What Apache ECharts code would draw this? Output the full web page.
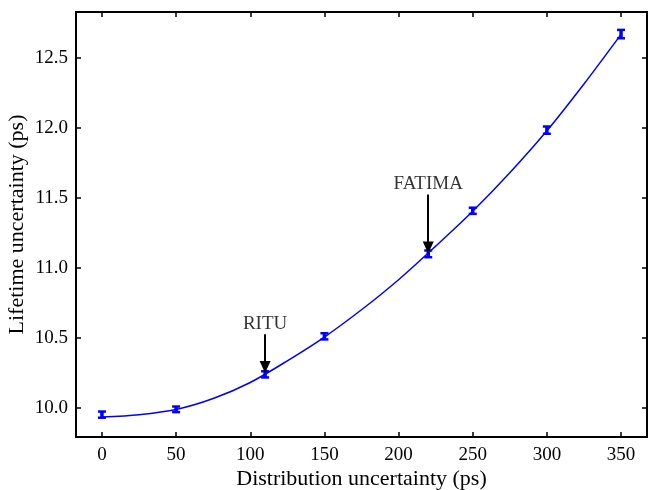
<!DOCTYPE html>
<html>
<head>
<meta charset="utf-8">
<script src="https://cdn.jsdelivr.net/npm/echarts@6/dist/echarts.min.js"></script>
<style>
  html, body { margin: 0; padding: 0; background: #fff; }
  #main { width: 648px; height: 490px; }
</style>
</head>
<body>
<div id="main"></div>
<script>
// measured points with error bars
var distX = [0, 50, 110, 150, 220, 250, 300, 350];
var lifeY = [9.95, 9.988, 10.238, 10.51, 11.10, 11.408, 11.985, 12.672];
var lifeErr = [0.022, 0.02, 0.022, 0.022, 0.024, 0.022, 0.026, 0.03];

// fitted curve
var fitX = [0, 25, 50, 75, 100, 125, 150, 175, 200, 225, 250, 275, 300, 325, 350];
var fitY = [9.933, 9.95, 9.987, 10.065, 10.18, 10.335, 10.505, 10.70, 10.915, 11.155, 11.405, 11.68, 11.98, 12.315, 12.67];

var xTicks = [0, 50, 100, 150, 200, 250, 300, 350];
var yTicks = [10.0, 10.5, 11.0, 11.5, 12.0, 12.5];

// annotations: label, x, text y, arrow start y, arrow tip y
var notes = [
    ['RITU', 110, 10.60, 10.525, 10.29],
    ['FATIMA', 220, 11.60, 11.525, 11.145]
];

var serif = 'Liberation Serif';
var mychart = echarts.init(document.getElementById('main'));

function mkX(show, pos) {
    return {
        type: 'value', position: pos, min: -17.5, max: 367.5,
        name: show ? 'Distribution uncertainty (ps)' : '',
        nameLocation: 'middle', nameGap: 31, nameMoveOverlap: false,
        nameTextStyle: { fontFamily: serif, fontSize: 22, color: '#000' },
        axisLine: { show: true, onZero: false, lineStyle: { color: '#000', width: 2 } },
        axisTick: { show: true, inside: true, length: 5, customValues: xTicks, lineStyle: { color: '#000', width: 1.5 } },
        axisLabel: { show: show, customValues: xTicks, margin: 9, fontFamily: serif, fontSize: 19, color: '#000' },
        splitLine: { show: false }
    };
}
function mkY(show, pos) {
    return {
        type: 'value', position: pos, min: 9.79, max: 12.83,
        name: show ? 'Lifetime uncertainty (ps)' : '',
        nameLocation: 'middle', nameGap: 48, nameRotate: 90, nameMoveOverlap: false,
        nameTextStyle: { fontFamily: serif, fontSize: 22, color: '#000' },
        axisLine: { show: true, onZero: false, lineStyle: { color: '#000', width: 2 } },
        axisTick: { show: true, inside: true, length: 5, customValues: yTicks, lineStyle: { color: '#000', width: 1.5 } },
        axisLabel: {
            show: show, customValues: yTicks, margin: 8, fontFamily: serif, fontSize: 19, color: '#000',
            formatter: function (v) { return v.toFixed(1); }
        },
        splitLine: { show: false }
    };
}

var fitData = fitX.map(function (x, i) { return [x, fitY[i]]; });
var errData = distX.map(function (x, i) { return [x, lifeY[i] - lifeErr[i], lifeY[i] + lifeErr[i]]; });

var arrowLines = notes.map(function (n) {
    return [{ coord: [n[1], n[3]] }, { coord: [n[1], n[4]] }];
});
var noteData = notes.map(function (n) { return { value: [n[1], n[2]], name: n[0] }; });

var option = {
    animation: false,
    grid: { left: 76, top: 12, right: 1, bottom: 53, containLabel: false, outerBoundsMode: 'none' },
    xAxis: [mkX(true, 'bottom'), mkX(false, 'top')],
    yAxis: [mkY(true, 'left'), mkY(false, 'right')],
    series: [
        {
            type: 'line', data: fitData, smooth: 0.3, showSymbol: false,
            lineStyle: { color: '#0000ff', width: 1.5 },
            markLine: {
                silent: true, symbol: ['none', 'triangle'], symbolSize: [11, 12],
                label: { show: false },
                lineStyle: { color: '#000', width: 2, type: 'solid' },
                data: arrowLines
            }
        },
        {
            type: 'scatter', data: noteData, symbolSize: 0, silent: true,
            itemStyle: { color: '#000' },
            label: {
                show: true, position: 'inside', formatter: '{b}',
                fontFamily: serif, fontSize: 19, color: '#000', textBorderWidth: 0
            }
        },
        {
            type: 'custom', data: errData,
            renderItem: function (params, api) {
                var lo = api.coord([api.value(0), api.value(1)]);
                var hi = api.coord([api.value(0), api.value(2)]);
                var cap = 4;
                var st = { stroke: '#0000ff', lineWidth: 2.5 };
                return {
                    type: 'group', children: [
                        { type: 'line', shape: { x1: lo[0], y1: lo[1], x2: hi[0], y2: hi[1] }, style: { stroke: '#0000ff', lineWidth: 3.5 } },
                        { type: 'line', shape: { x1: lo[0] - cap, y1: lo[1], x2: lo[0] + cap, y2: lo[1] }, style: st },
                        { type: 'line', shape: { x1: hi[0] - cap, y1: hi[1], x2: hi[0] + cap, y2: hi[1] }, style: st }
                    ]
                };
            },
            z: 3
        }
    ]
};
mychart.setOption(option);
</script>
</body>
</html>
